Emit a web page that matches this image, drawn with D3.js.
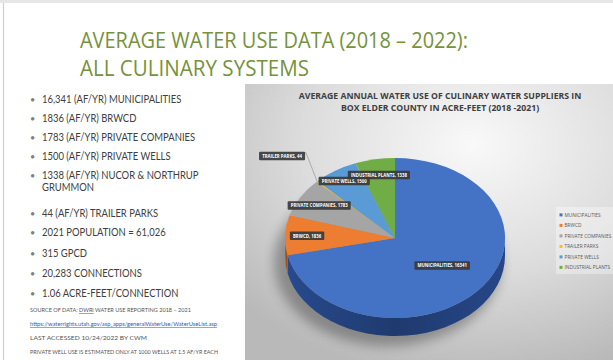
<!DOCTYPE html>
<html><head><meta charset="utf-8">
<script src="https://cdn.jsdelivr.net/npm/d3@7/dist/d3.min.js"></script>
<style>
html,body{margin:0;padding:0;background:#fff;}
svg{display:block;}
</style></head>
<body>
<svg id="c" width="613" height="360"></svg>
<script>
// ---------- DATA ----------
const slideTitle = ["AVERAGE WATER USE DATA (2018 – 2022):", "ALL CULINARY SYSTEMS"];
const bulletLines = [
  ["16,341 (AF/YR) MUNICIPALITIES"],
  ["1836 (AF/YR) BRWCD"],
  ["1783 (AF/YR) PRIVATE COMPANIES"],
  ["1500 (AF/YR) PRIVATE WELLS"],
  ["1338 (AF/YR) NUCOR & NORTHRUP", "GRUMMON"],
  ["44 (AF/YR) TRAILER PARKS"],
  ["2021 POPULATION = 61,026"],
  ["315 GPCD"],
  ["20,283 CONNECTIONS"],
  ["1.06 ACRE-FEET/CONNECTION"]
];
const notes = [
  ["SOURCE OF DATA: ", "DWRi", " WATER USE REPORTING 2018 – 2021"],
  ["https://waterrights.utah.gov/asp_apps/generalWaterUse/WaterUseList.asp"],
  ["LAST ACCESSED 10/24/2022 BY CWM"],
  ["PRIVATE WELL USE IS ESTIMATED ONLY AT 1000 WELLS AT 1.5 AF/YR EACH"]
];
const chartTitle = ["AVERAGE ANNUAL WATER USE OF CULINARY WATER SUPPLIERS IN", "BOX ELDER COUNTY IN ACRE-FEET (2018 -2021)"];
const categories = ["MUNICIPALITIES", "BRWCD", "PRIVATE COMPANIES", "TRAILER PARKS", "PRIVATE WELLS", "INDUSTRIAL PLANTS"];
const values = [16341, 1836, 1783, 44, 1500, 1338];

// ---------- STYLE / LAYOUT ----------
const colors = ["#4472C4", "#ED7D31", "#A5A5A5", "#FFC000", "#5B9BD5", "#70AD47"];
const sideColors = ["#22407a", "#a8531c", "#6e6e6e", "#b08400", "#3a6f9e", "#4a7a2c"];
const labelFrac = [0.55, 0.8, 0.8, 1.45, 0.85, 0.8];
const outsideLabel = [false, false, false, true, false, false];

const svg = d3.select("#c");
const defs = svg.append("defs");

// slide frame
svg.append("rect").attr("x", 0).attr("y", 0).attr("width", 613).attr("height", 3).attr("fill", "#e6e6e6");
svg.append("line").attr("x1", 3.5).attr("x2", 3.5).attr("y1", 3).attr("y2", 360).attr("stroke", "#cfcfcf").attr("stroke-width", 1.2);

// slide title
const titleColor = "#76923C";
const titleFont = "'Open Sans', 'Lato', sans-serif";
const titleWidths = [388, 229];
slideTitle.forEach((t, i) => {
  svg.append("text").attr("x", 80).attr("y", 48 + i * 28)
    .attr("font-family", titleFont).attr("font-size", 21.5)
    .attr("fill", titleColor)
    .attr("textLength", titleWidths[i]).attr("lengthAdjust", "spacingAndGlyphs")
    .text(t);
});

// bullets
const bodyFont = "'Lato', 'Open Sans', sans-serif";
const bodyColor = "#404040";
const bulletBase = [103, 122, 141, 160, 179, 217, 236, 257, 277, 297];
const bg = svg.append("g");
bulletLines.forEach((lines, i) => {
  const y = bulletBase[i];
  bg.append("text").attr("x", 30).attr("y", y - 0.5).attr("font-family", bodyFont).attr("font-size", 9)
    .attr("fill", "#7f7f7f").text("•");
  lines.forEach((l, j) => {
    bg.append("text").attr("x", 42).attr("y", y + j * 12.5)
      .attr("font-family", bodyFont).attr("font-size", 11).attr("fill", bodyColor)
      .attr("transform", `translate(42,0) scale(0.86,1) translate(-42,0)`)
      .text(l);
  });
});

// notes
const noteY = [312, 326, 340, 354];
const noteW = [161, 187, 117, 188];
notes.forEach((parts, i) => {
  const t = svg.append("text").attr("x", 30).attr("y", noteY[i])
    .attr("font-family", bodyFont).attr("font-size", 5.4)
    .attr("fill", i === 1 ? "#2e5fb0" : "#555")
    .attr("textLength", noteW[i]).attr("lengthAdjust", "spacingAndGlyphs");
  if (i === 1) t.attr("text-decoration", "underline");
  parts.forEach((p, k) => {
    const ts = t.append("tspan").text(p);
    if (i === 0 && k === 1) ts.attr("style", "text-decoration: underline; text-decoration-color: #d33;");
  });
});

// ---------- CHART PANEL ----------
const panel = {x: 245, y: 84, w: 368, h: 276};
const rg = defs.append("radialGradient").attr("id", "bgGrad")
  .attr("cx", "62%").attr("cy", "22%").attr("r", "85%");
rg.append("stop").attr("offset", "0%").attr("stop-color", "#f9f9f9");
rg.append("stop").attr("offset", "55%").attr("stop-color", "#dcdcdc");
rg.append("stop").attr("offset", "100%").attr("stop-color", "#b9b9b9");
svg.append("rect").attr("x", panel.x).attr("y", panel.y).attr("width", panel.w).attr("height", panel.h)
  .attr("fill", "url(#bgGrad)");

// chart title
const ctFont = "'Open Sans', sans-serif";
chartTitle.forEach((t, i) => {
  svg.append("text").attr("x", 440).attr("y", 99 + i * 11.5)
    .attr("text-anchor", "middle").attr("font-family", ctFont).attr("font-weight", "bold")
    .attr("font-size", 8.7).attr("fill", "#404040")
    .text(t);
});

// ---------- 3D PIE ----------
const cx = 395, cy = 238, rx = 110, ry = 80, depth = 18;
const pie = d3.pie().sort(null).value(d => d).startAngle(0).endAngle(2 * Math.PI);
const arcs = pie(values);
const px = (a, f = 1) => cx + rx * f * Math.sin(a);
const py = (a, f = 1) => cy - ry * f * Math.cos(a);

// shadow
const blur = defs.append("filter").attr("id", "shadow").attr("x", "-30%").attr("y", "-30%").attr("width", "160%").attr("height", "160%");
blur.append("feGaussianBlur").attr("stdDeviation", 6);
svg.append("ellipse").attr("cx", cx - 7).attr("cy", cy + depth + 6).attr("rx", rx + 4).attr("ry", ry + 4)
  .attr("fill", "#000").attr("opacity", 0.3).attr("filter", "url(#shadow)");

// side gradients
arcs.forEach((d, i) => {
  const g = defs.append("linearGradient").attr("id", "side" + i).attr("x1", "0%").attr("x2", "100%");
  const c = d3.color(sideColors[i]);
  g.append("stop").attr("offset", "0%").attr("stop-color", c.brighter(0.4));
  g.append("stop").attr("offset", "50%").attr("stop-color", c.darker(0.3));
  g.append("stop").attr("offset", "100%").attr("stop-color", c.brighter(0.3));
});

// side walls (front half: angles PI/2 .. 3PI/2)
const sides = svg.append("g");
arcs.forEach((d, i) => {
  const a0 = Math.max(d.startAngle, Math.PI / 2);
  const a1 = Math.min(d.endAngle, 3 * Math.PI / 2);
  if (a1 <= a0) return;
  const large = (a1 - a0) > Math.PI ? 1 : 0;
  const path = `M${px(a0)},${py(a0)} A${rx},${ry} 0 ${large} 1 ${px(a1)},${py(a1)} L${px(a1)},${py(a1) + depth} A${rx},${ry} 0 ${large} 0 ${px(a0)},${py(a0) + depth} Z`;
  sides.append("path").attr("d", path).attr("fill", `url(#side${i})`);
});

// top faces
const arcGen = d3.arc().innerRadius(0).outerRadius(1);
svg.append("g").attr("transform", `translate(${cx},${cy}) scale(${rx},${ry})`)
  .selectAll("path").data(arcs).join("path")
  .attr("d", arcGen)
  .attr("fill", (d, i) => colors[i])
  .attr("stroke", "none");

// data labels
const lblFont = "'Open Sans', sans-serif";
const labels = svg.append("g");
arcs.forEach((d, i) => {
  const mid = (d.startAngle + d.endAngle) / 2;
  const lx = px(mid, labelFrac[i]), ly = py(mid, labelFrac[i]);
  const g = labels.append("g").attr("transform", `translate(${lx},${ly})`);
  const rect = g.append("rect");
  const t = g.append("text").attr("text-anchor", "middle").attr("dy", "0.35em")
    .attr("font-family", lblFont).attr("font-weight", "bold").attr("font-size", 5.3)
    .attr("fill", "#fff").attr("transform", "scale(0.82,1)")
    .text(`${categories[i]}, ${values[i]}`);
  const bb = t.node().getBBox();
  const w = bb.width * 0.82 + 6, h = 8.5;
  rect.attr("x", -w / 2).attr("y", -h / 2).attr("width", w).attr("height", h)
    .attr("rx", 1).attr("fill", "#3a3a3a").attr("opacity", 0.92);
  if (outsideLabel[i]) {
    labels.insert("polyline", ":first-child")
      .attr("points", `${lx + w / 2 - 2},${ly - h / 2 + 1} ${lx + w / 2 + 1},${ly - h / 2 + 1} ${px(mid)},${py(mid)}`)
      .attr("fill", "none").attr("stroke", "#8a8a8a").attr("stroke-width", 0.6);
  }
});

// legend
const lg = svg.append("g");
lg.append("rect").attr("x", 556).attr("y", 207).attr("width", 57).attr("height", 67)
  .attr("fill", "#fff").attr("opacity", 0.35);
categories.forEach((c, i) => {
  const y = 215 + i * 10.5;
  lg.append("rect").attr("x", 559.5).attr("y", y - 1.6).attr("width", 3).attr("height", 3).attr("fill", colors[i]);
  lg.append("text").attr("x", 564.5).attr("y", y).attr("dy", "0.35em")
    .attr("font-family", lblFont).attr("font-size", 4.8).attr("fill", "#595959")
    .text(c);
});
</script>
</body></html>
